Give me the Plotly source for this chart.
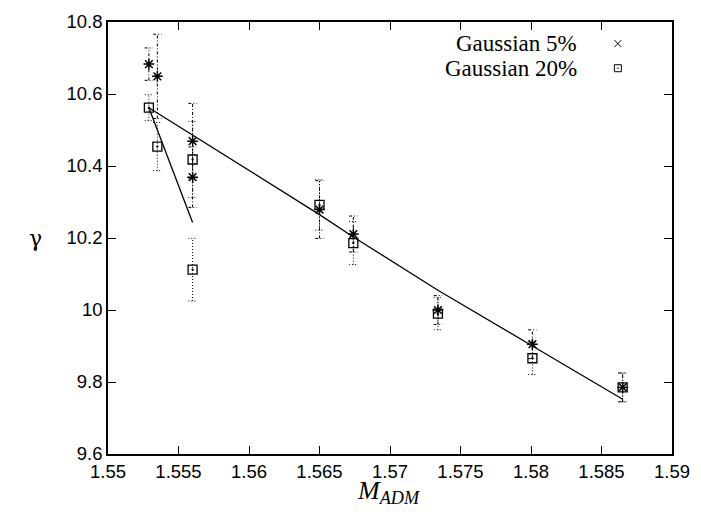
import plotly.graph_objects as go

# ---- data ----
x5 = [1.5529, 1.5535, 1.5560, 1.5560, 1.5650, 1.5674, 1.5734, 1.5801, 1.5865]
y5 = [10.683, 10.649, 10.469, 10.369, 10.279, 10.211, 10.000, 9.905, 9.785]
e5 = [0.045, 0.117, 0.105, 0.084, 0.080, 0.050, 0.040, 0.040, 0.040]

x20 = [1.5529, 1.5535, 1.5560, 1.5560, 1.5650, 1.5674, 1.5734, 1.5801, 1.5865]
y20 = [10.562, 10.454, 10.418, 10.112, 10.292, 10.186, 9.990, 9.866, 9.785]
e20 = [0.036, 0.067, 0.106, 0.087, 0.070, 0.060, 0.045, 0.045, 0.040]

fit_x = [1.5529, 1.5650, 1.5674, 1.5734, 1.5801, 1.5865]
fit_y = [10.562, 10.265, 10.203, 10.055, 9.900, 9.752]

fit2_x = [1.5529, 1.5560]
fit2_y = [10.562, 10.243]

xticks = [1.55, 1.555, 1.56, 1.565, 1.57, 1.575, 1.58, 1.585, 1.59]
yticks = [9.6, 9.8, 10.0, 10.2, 10.4, 10.6, 10.8]
legend_labels = ["Gaussian 5%", "Gaussian 20%"]

CAP = 0.0003


def errbar_paths(xs, ys, es):
    px, py = [], []
    for x, y, e in zip(xs, ys, es):
        px += [x, x, None, x - CAP, x + CAP, None, x - CAP, x + CAP, None]
        py += [y - e, y + e, None, y + e, y + e, None, y - e, y - e, None]
    return px, py


fig = go.Figure()

ex, ey = errbar_paths(x5, y5, e5)
fig.add_trace(go.Scatter(x=ex, y=ey, mode="lines", showlegend=False,
                         line=dict(color="black", width=1, dash="3px,2px,1px,2px")))
ex, ey = errbar_paths(x20, y20, e20)
fig.add_trace(go.Scatter(x=ex, y=ey, mode="lines", showlegend=False,
                         line=dict(color="black", width=1, dash="1px,2px")))

fig.add_trace(go.Scatter(x=fit_x, y=fit_y, mode="lines", showlegend=False,
                         line=dict(color="black", width=1.3)))
fig.add_trace(go.Scatter(x=fit2_x, y=fit2_y, mode="lines", showlegend=False,
                         line=dict(color="black", width=1.3)))

fig.add_trace(go.Scatter(x=x5, y=y5, mode="markers", showlegend=False,
                         marker=dict(symbol="asterisk-open", size=9, color="black",
                                     line=dict(color="black", width=1.5))))
fig.add_trace(go.Scatter(x=x20, y=y20, mode="markers", showlegend=False,
                         marker=dict(symbol="square-open-dot", size=9, color="black",
                                     line=dict(color="black", width=1.3))))

# legend (gnuplot style: text right-aligned, symbol to the right) on a helper axis
fig.add_trace(go.Scatter(x=[0.904, 0.904], y=[0.95, 0.893], xaxis="x2", yaxis="y2",
                         mode="markers", showlegend=False,
                         marker=dict(symbol=["x-thin-open", "square-open-dot"], size=7,
                                     color="black", line=dict(color="black", width=1))))
for i, lab in enumerate(legend_labels):
    fig.add_annotation(x=0.835, y=[0.95, 0.893][i], xref="paper", yref="paper",
                       text=lab, showarrow=False, xanchor="right", yanchor="middle",
                       font=dict(family="serif", size=23, color="black"))

fig.add_annotation(x=-0.143, y=0.5, xref="paper", yref="paper", text="γ",
                   showarrow=False, font=dict(family="DejaVu Serif", size=22, color="black"))
fig.add_annotation(x=0.498, y=-0.13, xref="paper", yref="paper",
                   text="<i>M</i><sub><i>ADM</i></sub>", showarrow=False,
                   font=dict(family="Liberation Serif", size=26, color="black"))

axis_common = dict(showgrid=False, zeroline=False, showline=True, linecolor="black",
                   linewidth=1.5, mirror="ticks", ticks="inside", ticklen=8,
                   tickcolor="black", tickwidth=1,
                   tickfont=dict(family="Liberation Sans", size=18.5, color="black"))

fig.update_layout(
    width=701, height=523,
    margin=dict(l=108, r=19, t=11, b=69),
    paper_bgcolor="white", plot_bgcolor="white",
    xaxis=dict(range=[1.55, 1.59], tickvals=xticks,
               ticktext=[f"{v:g}" for v in xticks], **axis_common),
    yaxis=dict(range=[9.6, 10.8], tickvals=yticks,
               ticktext=[f"{v:g}" for v in yticks], **axis_common),
    xaxis2=dict(range=[0, 1], overlaying="x", visible=False, fixedrange=True),
    yaxis2=dict(range=[0, 1], overlaying="y", visible=False, fixedrange=True),
    showlegend=False,
)

fig.write_html("out.html")
